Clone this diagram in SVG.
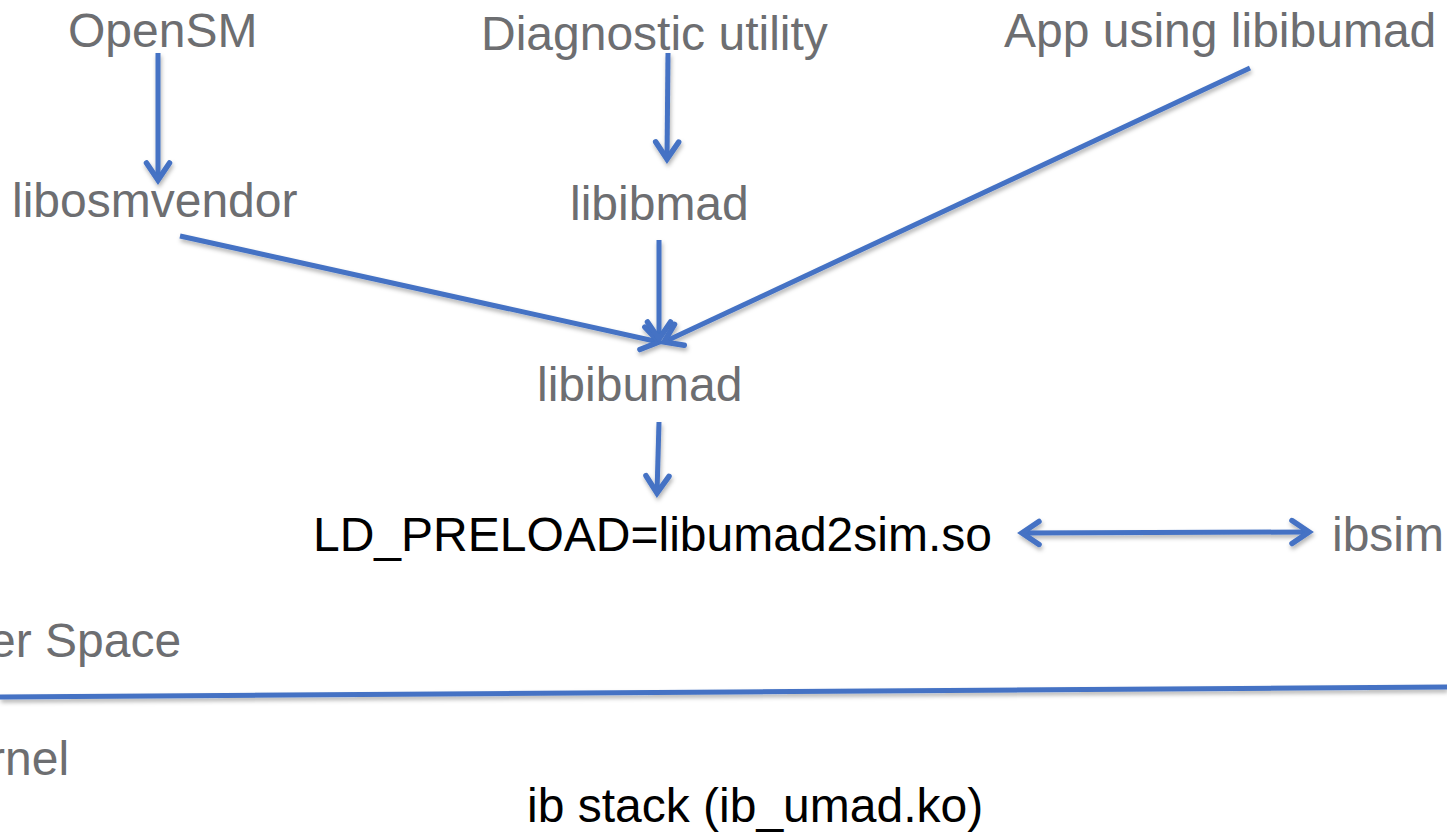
<svg xmlns="http://www.w3.org/2000/svg" width="1447" height="833" viewBox="0 0 1447 833">
  <style>
    .lbl { font-family: "Liberation Sans", Arial, sans-serif; font-size: 48px; fill: #6D6E71; }
    .dark { fill: #000000; }
    .conn { stroke: #4472C4; stroke-width: 5; fill: none; }
  </style>
  <defs>
    <filter id="shadow" filterUnits="userSpaceOnUse" x="-20" y="-20" width="1490" height="880">
      <feDropShadow dx="1" dy="3" stdDeviation="2" flood-color="#000" flood-opacity="0.3"/>
    </filter>
    <marker id="arrow" markerUnits="userSpaceOnUse" viewBox="-24 -18 30 36" markerWidth="30" markerHeight="36" refX="0" refY="0" orient="auto-start-reverse">
      <path d="M -17 -11.5 L 0 0 L -17 11.5" fill="none" stroke="#4472C4" stroke-width="5.5" stroke-linecap="round" stroke-linejoin="miter"/>
    </marker>
  </defs>

  <rect width="1447" height="833" fill="#FFFFFF"/>

  <g id="connectors" filter="url(#shadow)">
    <line class="conn" x1="158" y1="53" x2="158" y2="180" marker-end="url(#arrow)"/>
    <line class="conn" x1="668" y1="53" x2="667" y2="159" marker-end="url(#arrow)"/>
    <line class="conn" x1="180" y1="236" x2="659" y2="342" marker-end="url(#arrow)"/>
    <line class="conn" x1="659" y1="240" x2="659" y2="339" marker-end="url(#arrow)"/>
    <line class="conn" x1="1250" y1="68" x2="664" y2="342" marker-end="url(#arrow)"/>
    <line class="conn" x1="659" y1="422" x2="657" y2="493" marker-end="url(#arrow)"/>
    <line class="conn" x1="1022" y1="533" x2="1309" y2="532" marker-start="url(#arrow)" marker-end="url(#arrow)"/>
    <line class="conn" x1="0" y1="697" x2="1447" y2="687"/>
  </g>

  <g id="opensm"><text class="lbl" x="68" y="47">OpenSM</text></g>
  <g id="diag"><text class="lbl" x="481" y="50">Diagnostic utility</text></g>
  <g id="app"><text class="lbl" x="1004" y="47">App using libibumad</text></g>
  <g id="libosmvendor"><text class="lbl" x="12" y="217">libosmvendor</text></g>
  <g id="libibmad"><text class="lbl" x="570" y="220">libibmad</text></g>
  <g id="libibumad"><text class="lbl" x="537" y="401">libibumad</text></g>
  <g id="preload"><text class="lbl dark" x="313" y="551">LD_PRELOAD=libumad2sim.so</text></g>
  <g id="ibsim"><text class="lbl" x="1332" y="551">ibsim</text></g>
  <g id="userspace"><text class="lbl" x="-11" y="657">er Space</text></g>
  <g id="kernel"><text class="lbl" x="-11" y="775">rnel</text></g>
  <g id="ibstack"><text class="lbl dark" x="527" y="822">ib stack (ib_umad.ko)</text></g>
</svg>
